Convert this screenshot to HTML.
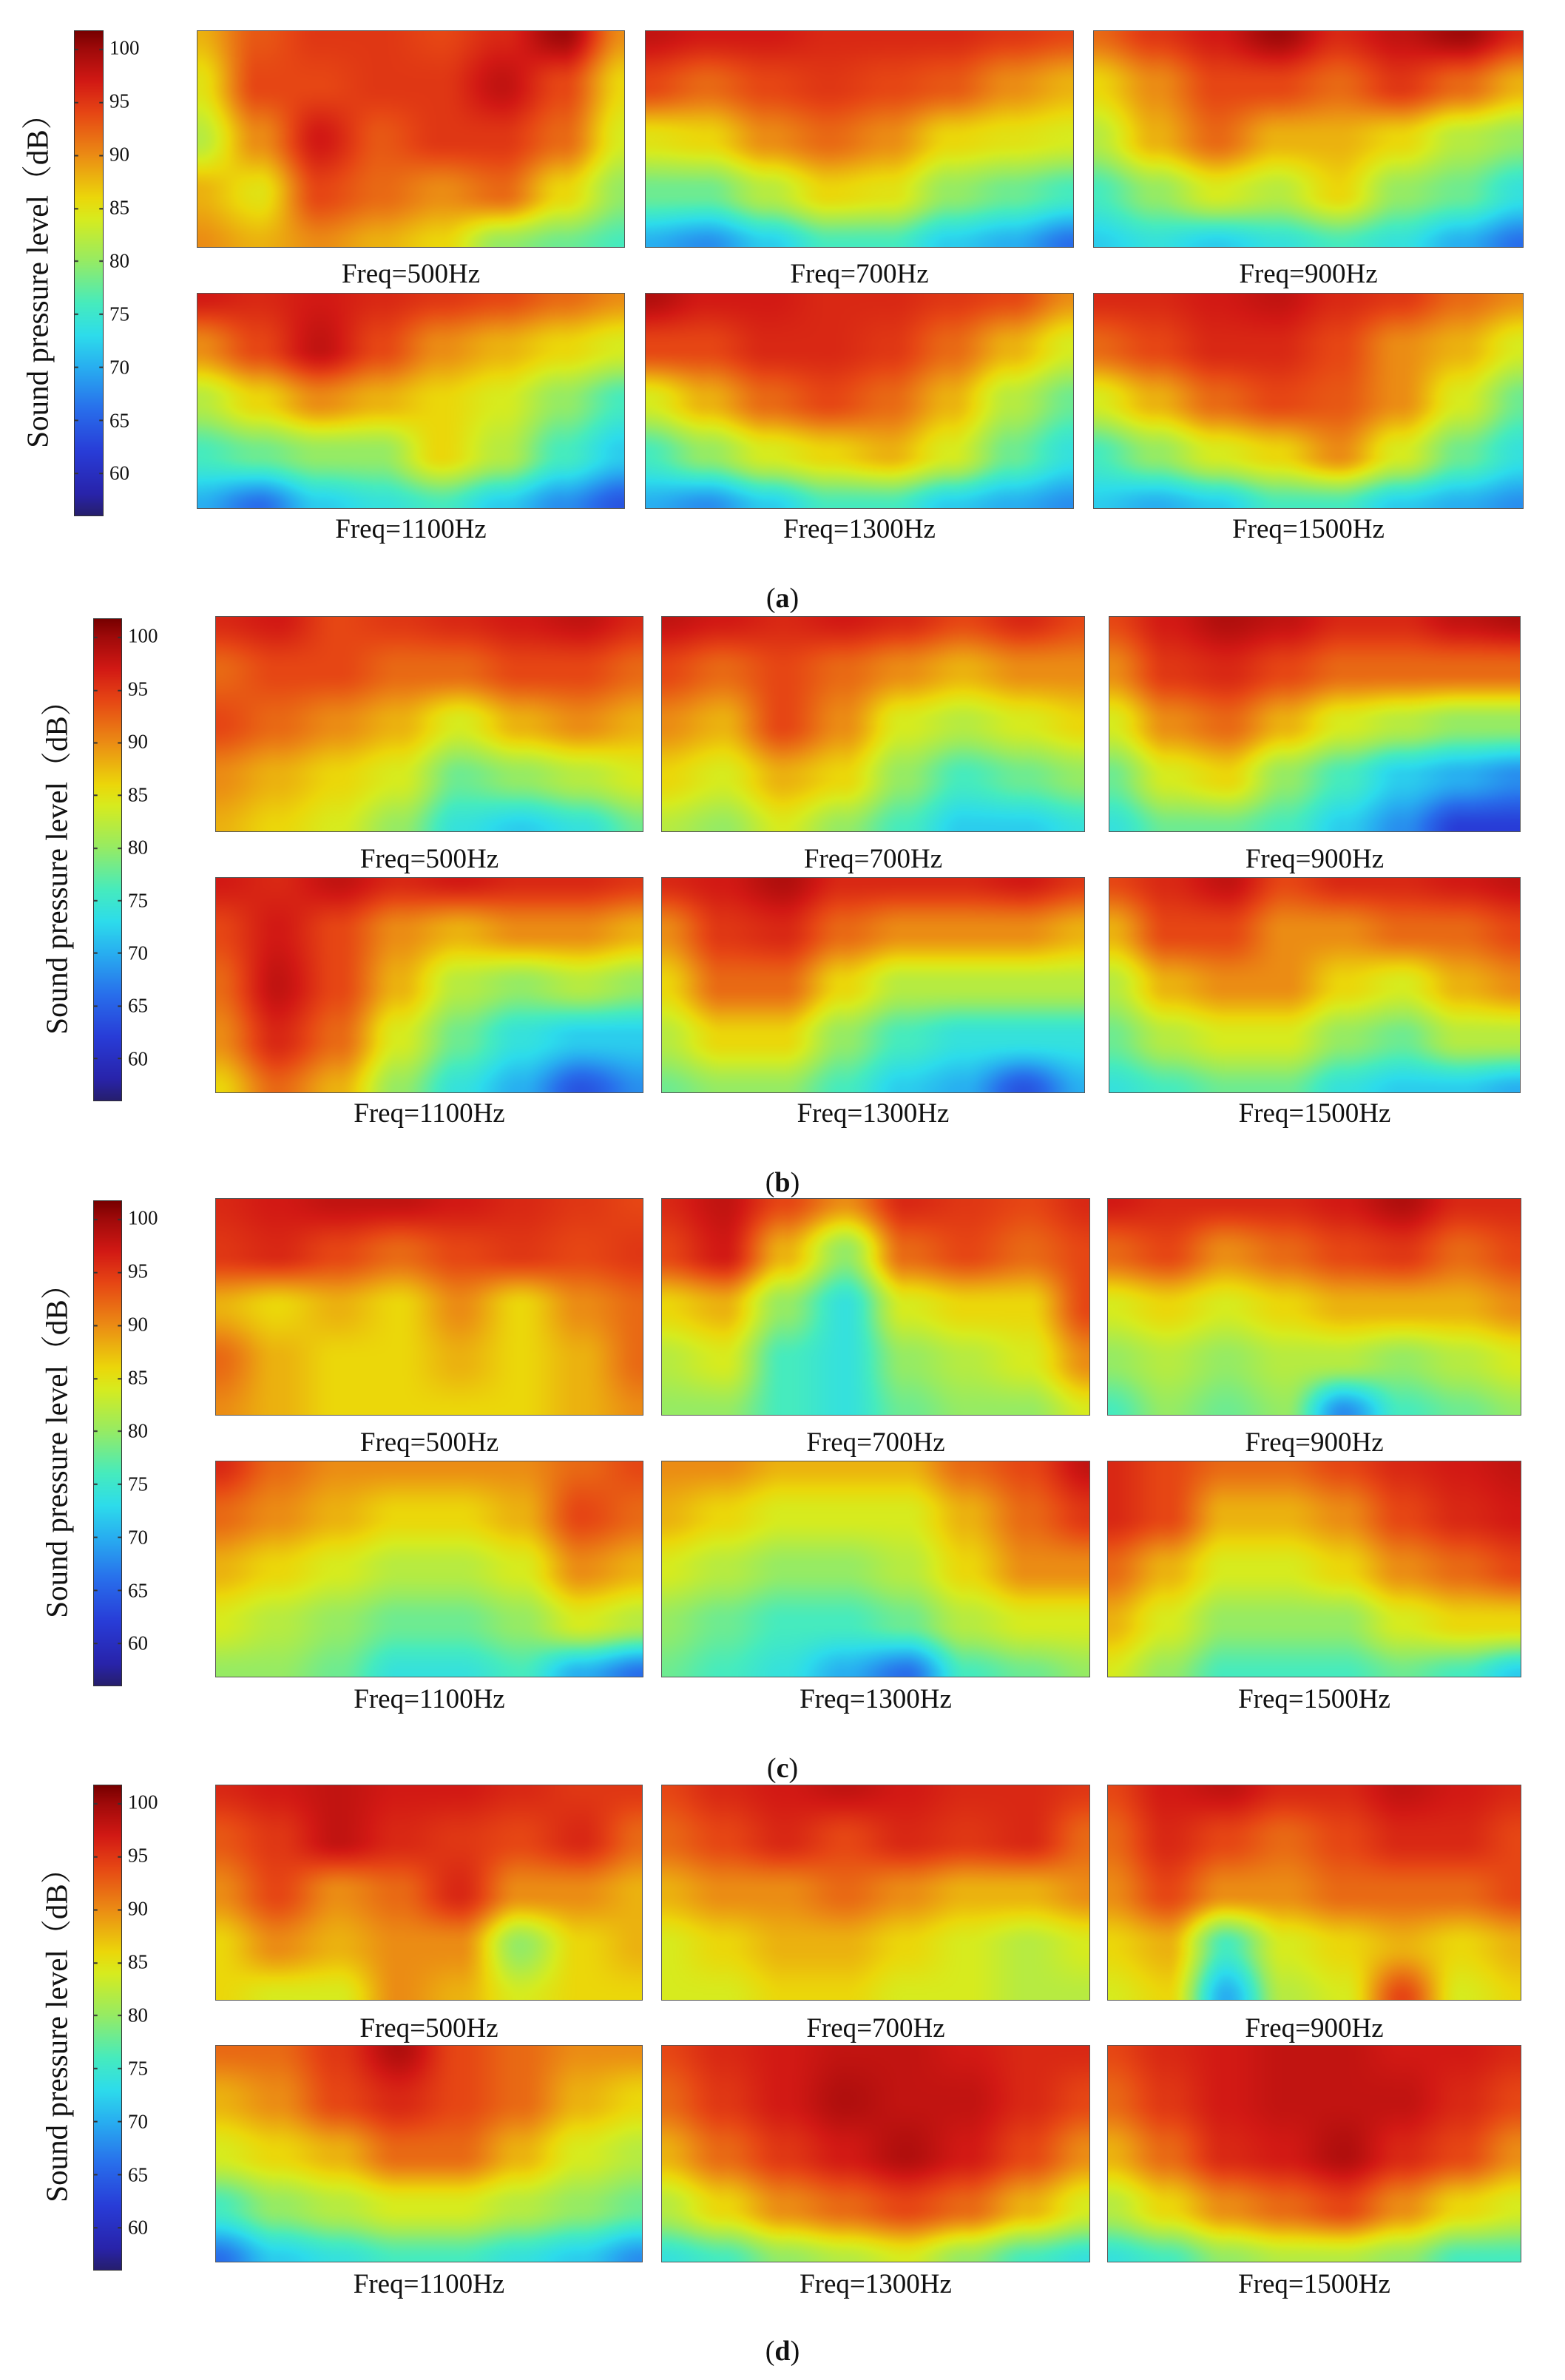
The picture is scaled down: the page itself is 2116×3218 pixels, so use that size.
<!DOCTYPE html>
<html><head><meta charset="utf-8">
<style>
html,body{margin:0;padding:0;background:#fff;}
body{width:2116px;height:3218px;position:relative;overflow:hidden;font-family:"Liberation Serif","Noto Serif CJK SC",serif;color:#111;}
.pn{position:absolute;box-sizing:border-box;border:1px solid #555;}
.lbl{position:absolute;font-size:37px;transform:translateX(-50%);white-space:nowrap;line-height:1;}
.sec{position:absolute;font-size:38px;transform:translateX(-50%);line-height:1;}
.cb{position:absolute;border:1px solid #333;box-sizing:border-box;}
.tk{position:absolute;font-size:27px;line-height:1;transform:translateY(-50%);}
.ttl{position:absolute;font-size:41px;white-space:nowrap;transform:translate(-50%,-50%) rotate(-90deg);line-height:1;}
</style></head>
<body>
<div id="root"></div>
<script>
// ---- data: sound pressure levels (dB), coarse 5x8 grids per panel ----
const freqLabels = ["Freq=500Hz","Freq=700Hz","Freq=900Hz","Freq=1100Hz","Freq=1300Hz","Freq=1500Hz"];
const sectionLabels = ["a","b","c","d"];
const colorbarTicks = [60,65,70,75,80,85,90,95,100];
const colorMin = 56;
const colorMax = 101.7;

const a500=[[88,93,95,95,94,96,100,90],[85,94,94,95,95,98,94,86],[82,90,97,93,95,95,92,84],[88,85,94,92,90,92,86,80],[90,88,90,88,86,80,78,76]];
const a700=[[98,97,97,96,96,96,95,94],[94,92,94,95,94,93,90,88],[85,86,90,92,90,86,85,84],[78,78,82,86,85,80,78,76],[70,68,72,76,76,72,70,66]];
const a900=[[92,95,97,100,96,98,100,96],[86,90,94,94,92,95,92,88],[82,88,92,88,88,86,82,80],[76,80,84,82,86,80,78,74],[72,74,72,74,76,74,70,66]];
const a1100=[[97,96,97,96,95,94,92,90],[90,94,98,94,90,88,86,84],[82,86,90,88,86,84,80,76],[76,78,80,80,86,82,76,72],[70,66,72,74,76,72,68,64]];
const a1300=[[99,97,97,96,96,95,94,90],[94,94,96,96,95,92,88,84],[84,88,92,94,92,88,82,78],[76,80,84,86,88,84,78,74],[70,68,72,76,76,72,70,68]];
const a1500=[[96,96,97,98,96,95,92,90],[92,94,96,96,94,90,88,84],[84,88,92,94,93,90,84,78],[76,80,84,86,90,84,78,74],[72,70,72,76,76,72,70,68]];

const b500=[[96,97,94,95,96,97,98,96],[92,94,94,92,92,94,94,92],[94,92,90,88,84,88,90,88],[90,88,86,84,78,80,82,84],[88,86,84,80,74,72,74,78]];
const b700=[[98,97,96,97,96,94,96,94],[94,92,94,92,90,88,90,90],[90,88,94,90,84,82,84,86],[86,84,88,86,80,76,78,80],[82,80,84,80,76,72,72,74]];
const b900=[[94,97,99,98,96,96,98,99],[90,95,96,94,92,92,92,92],[84,90,92,88,84,82,80,80],[78,84,86,80,76,72,70,68],[74,78,78,76,72,68,62,62]];
const b1100=[[97,96,98,96,97,96,96,95],[94,97,94,90,88,90,90,88],[92,98,94,88,82,80,82,80],[90,96,92,84,78,74,72,72],[86,92,88,80,74,70,64,68]];
const b1300=[[96,97,99,96,96,96,97,95],[90,95,96,92,90,90,90,88],[86,92,92,86,82,82,82,82],[82,86,86,80,76,74,74,74],[78,80,80,76,72,70,64,70]];
const b1500=[[94,96,98,94,96,96,97,98],[88,94,94,90,90,92,92,94],[82,88,90,90,86,84,88,90],[78,82,84,84,80,78,82,82],[74,76,78,78,74,72,72,70]];

const c500=[[96,97,98,98,97,96,95,94],[95,96,94,92,94,95,94,95],[88,86,88,86,90,86,90,92],[92,88,86,86,88,86,88,92],[90,88,86,86,86,86,88,90]];
const c700=[[96,98,94,90,96,95,94,96],[94,97,88,80,92,94,92,94],[86,88,80,74,84,86,86,94],[82,84,76,74,80,82,84,90],[80,80,76,74,78,80,80,84]];
const c900=[[97,96,96,96,97,99,96,96],[92,94,90,92,94,95,92,94],[84,86,84,86,88,88,88,90],[80,82,80,82,82,80,82,84],[76,80,78,80,68,76,78,80]];
const c1100=[[96,92,90,90,90,90,92,94],[92,90,88,86,86,88,94,92],[88,86,84,82,82,84,90,88],[84,82,80,78,78,80,84,82],[80,80,78,74,74,76,70,66]];
const c1300=[[90,90,88,88,88,92,94,98],[88,86,84,84,84,88,92,95],[84,82,80,80,82,86,90,90],[80,78,76,76,78,82,84,84],[78,76,74,70,66,76,78,80]];
const c1500=[[96,94,92,92,94,96,97,98],[96,94,88,88,90,94,96,97],[92,88,84,84,86,90,92,94],[88,84,80,80,80,84,86,86],[84,80,76,76,76,78,76,72]];

const d500=[[96,97,98,97,97,96,95,95],[93,95,98,96,95,94,96,92],[90,94,90,92,96,90,90,88],[86,90,88,90,90,80,86,88],[86,84,84,90,88,84,86,86]];
const d700=[[94,96,97,98,97,96,96,95],[92,94,96,94,96,95,96,92],[88,90,90,92,90,88,88,90],[84,86,88,88,86,84,82,84],[84,84,86,86,84,84,82,82]];
const d900=[[94,97,98,96,96,98,97,96],[92,96,94,92,94,96,96,94],[90,94,90,90,92,92,92,94],[86,88,76,84,86,88,86,88],[84,86,70,82,84,94,84,86]];
const d1100=[[92,92,95,99,94,92,90,90],[88,90,94,96,94,92,88,86],[84,86,88,92,92,88,84,82],[76,80,82,84,84,82,80,78],[66,72,74,76,76,74,72,68]];
const d1300=[[94,96,97,98,98,97,96,96],[92,95,97,99,98,98,96,94],[88,92,95,97,99,97,94,90],[82,86,90,92,94,92,88,84],[74,76,80,82,84,80,76,74]];
const d1500=[[94,96,97,98,98,97,97,96],[92,95,97,98,98,98,96,94],[88,92,96,97,99,96,94,90],[82,86,90,92,94,90,86,84],[74,76,80,82,82,80,76,76]];

const sectionData = [[a500,a700,a900,a1100,a1300,a1500],[b500,b700,b900,b1100,b1300,b1500],[c500,c700,c900,c1100,c1300,c1500],[d500,d700,d900,d1100,d1300,d1500]];

// ---- layout (pixels) ----
const layouts = [
 {cols:[[266,845],[872,1452],[1478,2060]], rows:[[41,335],[396,688]], labY:[352,697], sec:790, cb:[100,140,41,698], ttlX:51},
 {cols:[[291,870],[894,1467],[1499,2056]], rows:[[833,1125],[1186,1478]], labY:[1143,1487], sec:1580, cb:[126,165,836,1489], ttlX:77},
 {cols:[[291,870],[894,1474],[1497,2057]], rows:[[1620,1914],[1975,2268]], labY:[1932,2279], sec:2372, cb:[126,165,1623,2280], ttlX:77},
 {cols:[[291,869],[894,1474],[1497,2057]], rows:[[2413,2705],[2765,3059]], labY:[2724,3070], sec:3160, cb:[126,165,2413,3070], ttlX:77}
];

// colormap stops (dB -> rgb)
const cmap=[[56,[38,30,110]],[58,[40,35,170]],[62,[40,60,215]],[66,[40,110,235]],[70,[40,175,240]],[73,[45,220,235]],[76,[70,235,190]],[80,[150,235,100]],[84,[215,235,30]],[86,[235,215,10]],[90,[235,140,20]],[94,[230,70,20]],[97,[210,25,20]],[100,[160,10,10]],[101.7,[120,0,0]]];
function colorScale(v){
  if(v<=cmap[0][0])return cmap[0][1];
  for(let i=1;i<cmap.length;i++){
    if(v<=cmap[i][0]){
      const a=cmap[i-1],b=cmap[i],f=(v-a[0])/(b[0]-a[0]);
      return [0,1,2].map(k=>Math.round(a[1][k]+(b[1][k]-a[1][k])*f));
    }
  }
  return cmap[cmap.length-1][1];
}

const root=document.getElementById('root');

function drawHeat(cv,grid){
  const w=cv.width,h=cv.height,ctx=cv.getContext('2d');
  const img=ctx.createImageData(w,h);
  const R=grid.length,C=grid[0].length;
  for(let y=0;y<h;y++){
    const gy=y/(h-1)*(R-1),y0=Math.min(R-2,Math.floor(gy)),fy=gy-y0;
    for(let x=0;x<w;x++){
      const gx=x/(w-1)*(C-1),x0=Math.min(C-2,Math.floor(gx)),fx=gx-x0;
      const sx=fx*fx*(3-2*fx),sy=fy*fy*(3-2*fy);
      const v=(grid[y0][x0]*(1-sx)+grid[y0][x0+1]*sx)*(1-sy)+(grid[y0+1][x0]*(1-sx)+grid[y0+1][x0+1]*sx)*sy;
      const c=colorScale(v),i=(y*w+x)*4;
      img.data[i]=c[0];img.data[i+1]=c[1];img.data[i+2]=c[2];img.data[i+3]=255;
    }
  }
  ctx.putImageData(img,0,0);
}

layouts.forEach((L,s)=>{
  const [x0,x1,y0,y1]=L.cb;
  const cb=document.createElement('canvas');
  cb.className='cb';
  
  
  cb.width=x1-x0;cb.height=y1-y0;
  cb.style.left=x0+'px';cb.style.top=y0+'px';cb.style.width=(x1-x0)+'px';cb.style.height=(y1-y0)+'px';
  const cctx=cb.getContext('2d');
  for(let y=0;y<cb.height;y++){
    const v=colorMax-(y/(cb.height-1))*(colorMax-colorMin);
    const c=colorScale(v);
    cctx.fillStyle='rgb('+c.join(',')+')';cctx.fillRect(0,y,cb.width,1);
  }
  cctx.fillStyle='#333';
  colorbarTicks.forEach(t=>{
    const ty=(colorMax-t)/(colorMax-colorMin)*(cb.height-1);
    cctx.fillRect(0,Math.round(ty),5,2);cctx.fillRect(cb.width-5,Math.round(ty),5,2);
  });
  root.appendChild(cb);
  colorbarTicks.forEach(t=>{
    const d=document.createElement('div');
    d.className='tk';
    
    
    d.textContent=t;
    d.style.left=(x1+8)+'px';
    d.style.top=(y0+(colorMax-t)/(colorMax-colorMin)*(y1-y0))+'px';
    root.appendChild(d);
  });
  const tt=document.createElement('div');
  tt.className='ttl';
  
  
  tt.textContent='Sound pressure level（dB）';
  tt.style.left=L.ttlX+'px';tt.style.top=((y0+y1)/2)+'px';
  root.appendChild(tt);
  for(let i=0;i<6;i++){
    const r=Math.floor(i/3),c=i%3;
    const [px0,px1]=L.cols[c],[py0,py1]=L.rows[r];
    const cv=document.createElement('canvas');
    cv.className='pn';
    
    
    cv.width=Math.round((px1-px0)/2);cv.height=Math.round((py1-py0)/2);
    cv.style.left=px0+'px';cv.style.top=py0+'px';cv.style.width=(px1-px0)+'px';cv.style.height=(py1-py0)+'px';
    drawHeat(cv,sectionData[s][i]);
    root.appendChild(cv);
    const lb=document.createElement('div');
    lb.className='lbl';
    
    
    lb.textContent=freqLabels[i];
    lb.style.left=((px0+px1)/2)+'px';lb.style.top=L.labY[r]+'px';
    root.appendChild(lb);
  }
  const sl=document.createElement('div');
  sl.className='sec';
  
  
  sl.innerHTML='(<b>'+sectionLabels[s]+'</b>)';
  sl.style.left='1058px';sl.style.top=L.sec+'px';
  root.appendChild(sl);
});
</script>
</body></html>
